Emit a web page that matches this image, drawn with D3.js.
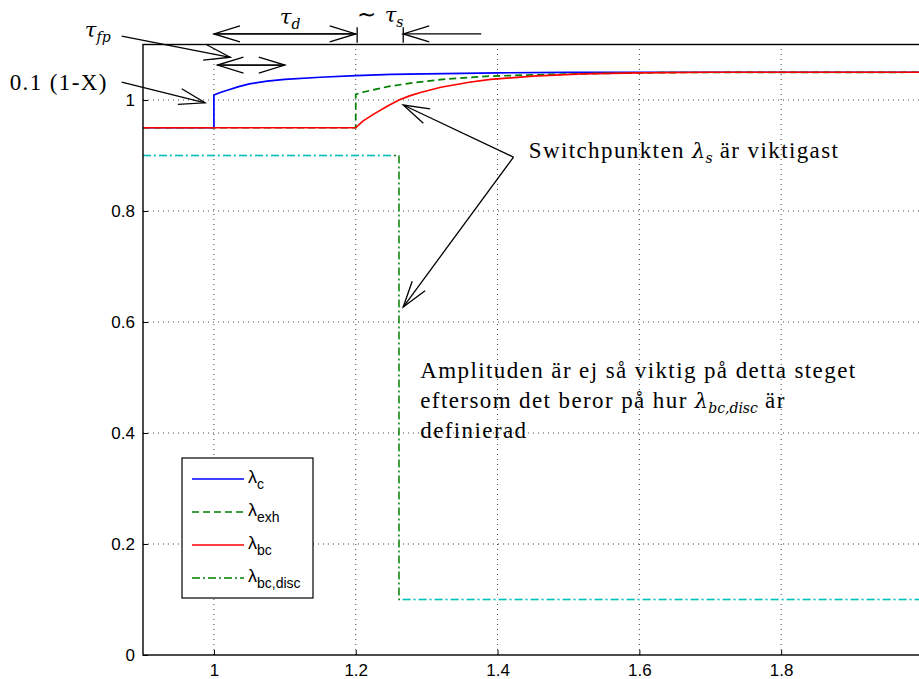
<!DOCTYPE html>
<html>
<head>
<meta charset="utf-8">
<script src="https://cdn.jsdelivr.net/npm/d3@7"></script>
<style>
	body { margin: 0; background: #fff; }
	.axis text { font-family: "Liberation Sans", Arial, sans-serif; font-size: 17px; fill: #000; }
	.grid { stroke: #444; stroke-width: 1; stroke-dasharray: 1,4; }
	.note { font-family: "Liberation Serif", "Times New Roman", serif; font-size: 23px; fill: #000; letter-spacing: 1.4px; }
	.math { font-family: "DejaVu Serif", serif; font-style: italic; letter-spacing: 0; }
	.arrow { stroke: #000; stroke-width: 1.3; fill: none; }
	.legendtext { font-family: "Liberation Sans", Arial, sans-serif; font-size: 18px; fill: #000; }
</style>
</head>
<body>
<svg id="chart" width="919" height="679"></svg>
<script>

// Series values [x, lambda]
var lambdaC = [[0.9,0.95],[1.0,0.95],[1.0,1.009],[1.01,1.014],[1.02,1.018],[1.035,1.024],[1.05,1.029],
	[1.075,1.034],[1.1,1.037],[1.15,1.041],[1.2,1.044],[1.25,1.046],[1.3,1.047],[1.4,1.049],[1.5,1.0497],[1.6,1.05],[2.0,1.05]];
var lambdaExh = [[0.9,0.95],[1.2,0.95],[1.2,1.010],[1.21,1.014],[1.22,1.017],[1.245,1.024],[1.28,1.031],[1.33,1.038],
	[1.39,1.043],[1.47,1.046],[1.55,1.048],[1.65,1.0495],[2.0,1.05]];
var lambdaBc = [[0.9,0.95],[1.2,0.95],[1.21,0.962],[1.226,0.975],[1.245,0.989],[1.261,1.0],[1.275,1.007],[1.29,1.013],
	[1.32,1.023],[1.36,1.032],[1.39,1.037],[1.45,1.043],[1.52,1.047],[1.6,1.049],[1.7,1.05],[2.0,1.05]];
var lambdaDisc = [[0.9,0.9],[1.261,0.9],[1.261,0.1],[2.0,0.1]];
// cyan dash-dot pieces drawn over the horizontal parts of the disc step
var discTop = [[0.9,0.9],[1.253,0.9]];
var discBottom = [[1.266,0.1],[2.0,0.1]];

// Tick labels
var xTicks = [1, 1.2, 1.4, 1.6, 1.8, 2];
var xTickLabels = ["1", "1.2", "1.4", "1.6", "1.8", "2"];
var yTicks = [0, 0.2, 0.4, 0.6, 0.8, 1];
var yTickLabels = ["0", "0.2", "0.4", "0.6", "0.8", "1"];

// Legend
var legendNames = ["c", "exh", "bc", "bc,disc"];

// Annotation arrows, in data units
var arrows = [
	{from:[1.2, 1.119], to:[1.0, 1.119]},        // tau_d, left head
	{from:[1.0, 1.119], to:[1.2, 1.119]},        // tau_d, right head
	{from:[1.377, 1.119], to:[1.267, 1.119]},    // tau_s
	{from:[1.1, 1.063], to:[1.005, 1.063]},      // tau_fp double arrow
	{from:[1.005, 1.063], to:[1.1, 1.063]},
	{from:[0.870, 1.115], to:[1.023, 1.077]},    // tau_fp pointer
	{from:[0.870, 1.032], to:[0.9875, 0.995]},   // 0.1 (1-X) pointer
	{from:[1.4225, 0.897], to:[1.267, 0.991]},   // switch -> red curve
	{from:[1.4225, 0.897], to:[1.267, 0.627]}    // switch -> disc step
];
var tauTicks = [1.202, 1.267];

var amplLines = ["Amplituden är ej så viktig på detta steget", "eftersom det beror på hur ", "definierad"];


var svg = d3.select("#chart");

var x = d3.scaleLinear()
	.domain([0.9, 2])
	.range([143, 923]);

var y = d3.scaleLinear()
	.domain([0, 1.1])
	.range([655, 44.5]);

var line = d3.line()
	.x(function(d) { return x(d[0]); })
	.y(function(d) { return y(d[1]); });

// Grid lines
svg.selectAll(".gx")
	.data(xTicks.slice(0, 5))
  .enter().append("line")
	.attr("class", "grid")
	.attr("x1", function(d) { return x(d); })
	.attr("x2", function(d) { return x(d); })
	.attr("y1", y(0))
	.attr("y2", y(1.1));
svg.selectAll(".gy")
	.data(yTicks.slice(1))
  .enter().append("line")
	.attr("class", "grid")
	.attr("x1", x(0.9))
	.attr("x2", x(2))
	.attr("y1", function(d) { return y(d); })
	.attr("y2", function(d) { return y(d); });

// Axes (ticks point inwards, like matlab)
var xAxis = d3.axisBottom(x).tickValues(xTicks).tickSize(-5).tickPadding(9)
	.tickFormat(function(d, i) { return xTickLabels[i]; });
var yAxis = d3.axisLeft(y).tickValues(yTicks).tickSize(-5).tickPadding(8)
	.tickFormat(function(d, i) { return yTickLabels[i]; });

svg.append("g")
	.attr("class", "x axis")
	.attr("transform", "translate(0," + y(0) + ")")
	.call(xAxis);
svg.append("g")
	.attr("class", "y axis")
	.attr("transform", "translate(" + x(0.9) + ",0)")
	.call(yAxis);
svg.selectAll(".axis .domain").remove();
svg.selectAll(".axis line").attr("stroke", "#000");

// Series
svg.append("path").datum(lambdaC)
	.attr("d", line).attr("fill", "none").attr("stroke", "#0000ff").attr("stroke-width", 1.7);
svg.append("path").datum(lambdaExh)
	.attr("d", line).attr("fill", "none").attr("stroke", "#008000").attr("stroke-width", 1.7)
	.attr("stroke-dasharray", "7,4");
svg.append("path").datum(lambdaBc)
	.attr("d", line).attr("fill", "none").attr("stroke", "#ff0000").attr("stroke-width", 1.7);
svg.append("path").datum(lambdaDisc)
	.attr("d", line).attr("fill", "none").attr("stroke", "#008000").attr("stroke-width", 1.5)
	.attr("stroke-dasharray", "8,3,2,3");
[discTop, discBottom].forEach(function(seg) {
	// white underlay hides the green pattern below the cyan one
	svg.append("path").datum(seg)
		.attr("d", line).attr("fill", "none").attr("stroke", "#fff").attr("stroke-width", 2.5);
	svg.append("path").datum(seg)
		.attr("d", line).attr("fill", "none").attr("stroke", "#00bfbf").attr("stroke-width", 1.3)
		.attr("stroke-dasharray", "8,3,2,3");
});

// Plot box
svg.append("rect")
	.attr("x", x(0.9)).attr("y", y(1.1))
	.attr("width", x(2) - x(0.9)).attr("height", y(0) - y(1.1))
	.attr("fill", "none").attr("stroke", "#000").attr("stroke-width", 1.4);

// Arrows with open heads
function drawArrow(a) {
	var x0 = x(a.from[0]), y0 = y(a.from[1]), x1 = x(a.to[0]), y1 = y(a.to[1]);
	svg.append("line").attr("class", "arrow")
		.attr("x1", x0).attr("y1", y0).attr("x2", x1).attr("y2", y1);
	var len = Math.sqrt((x1-x0)*(x1-x0) + (y1-y0)*(y1-y0));
	var ux = (x1-x0)/len, uy = (y1-y0)/len;
	var hl = 26, hw = 8;
	var bx = x1 - ux*hl, by = y1 - uy*hl;
	svg.append("path").attr("class", "arrow")
		.attr("d", "M" + (bx - uy*hw) + "," + (by + ux*hw) + "L" + x1 + "," + y1 + "L" + (bx + uy*hw) + "," + (by - ux*hw));
}
arrows.forEach(drawArrow);

tauTicks.forEach(function(t) {
	svg.append("line").attr("class", "arrow")
		.attr("x1", x(t)).attr("x2", x(t))
		.attr("y1", y(1.131)).attr("y2", y(1.103));
});

// Annotation texts
function mathText(px, py, parts) {
	var t = svg.append("text").attr("class", "note").attr("x", px).attr("y", py);
	parts.forEach(function(p) {
		var s = t.append("tspan").text(p.t);
		if (p.it) s.attr("class", "math").attr("font-size", "21px");
		if (p.sub) s.attr("font-size", "14px").attr("dy", 5);
		if (p.up) s.attr("dy", -5);
	});
	return t;
}

mathText(x(0.818), y(1.113), [{t:"τ", it:true}, {t:"fp", it:true, sub:true}]);
mathText(x(0.712), y(1.018), [{t:"0.1 (1-X)"}]);
mathText(x(1.093), y(1.137), [{t:"τ", it:true}, {t:"d", it:true, sub:true}]);
mathText(x(1.202), y(1.14), [{t:"∼ "}, {t:"τ", it:true}, {t:"s", it:true, sub:true}]);
mathText(x(1.444), y(0.895), [{t:"Switchpunkten "}, {t:"λ", it:true}, {t:"s", it:true, sub:true}, {t:" är viktigast", up:true}]);

mathText(x(1.291), y(0.499), [{t:amplLines[0]}]);
mathText(x(1.291), y(0.445), [{t:amplLines[1]}, {t:"λ", it:true}, {t:"bc,disc", it:true, sub:true}, {t:" är", up:true}]);
mathText(x(1.291), y(0.391), [{t:amplLines[2]}]);

// Legend
var legend = svg.append("g").attr("transform", "translate(182,458)");
legend.append("rect")
	.attr("width", 131).attr("height", 140)
	.attr("fill", "#fff").attr("stroke", "#000").attr("stroke-width", 1.2);
var legStyles = [
	{c:"#0000ff", dash:null},
	{c:"#008000", dash:"7,4"},
	{c:"#ff0000", dash:null},
	{c:"#008000", dash:"8,3,2,3"}
];
legendNames.forEach(function(n, i) {
	var ly = 21 + i * 33;
	legend.append("line")
		.attr("x1", 10).attr("x2", 62).attr("y1", ly).attr("y2", ly)
		.attr("stroke", legStyles[i].c).attr("stroke-width", 1.5)
		.attr("stroke-dasharray", legStyles[i].dash);
	var t = legend.append("text").attr("class", "legendtext").attr("x", 66).attr("y", ly + 4);
	t.append("tspan").text("λ");
	t.append("tspan").text(n).attr("font-size", "14px").attr("dy", 6);
});
</script>
</body>
</html>
